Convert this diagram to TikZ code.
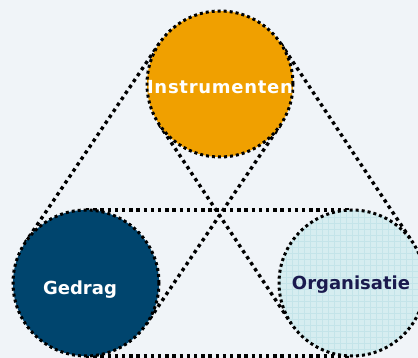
\documentclass[tikz,border=0pt]{standalone}
\usepackage{fontspec}
\setmainfont{DejaVu Sans}
\usetikzlibrary{calc}
\definecolor{bgcol}{RGB}{240,244,248}
\definecolor{orangecol}{RGB}{240,160,0}
\definecolor{bluecol}{RGB}{0,69,110}
\definecolor{cyancol}{RGB}{214,237,240}
\definecolor{gridcol}{RGB}{196,228,233}
\definecolor{navycol}{RGB}{26,26,78}
\tikzset{
  dotline/.style={line width=3.4pt, dash pattern=on 3.4pt off 3.8pt, black},
  ball/.style={circle, minimum size=146pt, inner sep=0pt, draw=black,
    line width=3pt, dash pattern=on 3pt off 3pt},
  balltext/.style={font=\bfseries\fontsize{18}{20}\selectfont, inner sep=0pt},
}
\begin{document}
\begin{tikzpicture}[x=1pt,y=-1pt]
\useasboundingbox (0,0) rectangle (418,358);
\clip (0,0) rectangle (418,358);
\fill[bgcol] (0,0) rectangle (418,358);
\coordinate (cI) at (220,84);
\coordinate (cG) at (86,283);
\coordinate (cO) at (352,283);
% tangent lines between each pair of circles
\draw[dotline] ($(cI)!73pt!90:(cG)$) -- ($(cG)!73pt!-90:(cI)$);
\draw[dotline] ($(cI)!73pt!-90:(cG)$) -- ($(cG)!73pt!90:(cI)$);
\draw[dotline] ($(cI)!73pt!90:(cO)$) -- ($(cO)!73pt!-90:(cI)$);
\draw[dotline] ($(cI)!73pt!-90:(cO)$) -- ($(cO)!73pt!90:(cI)$);
\draw[dotline] ($(cG)!73pt!90:(cO)$) -- ($(cO)!73pt!-90:(cG)$);
\draw[dotline] ($(cG)!73pt!-90:(cO)$) -- ($(cO)!73pt!90:(cG)$);
% circles
\node[ball, fill=orangecol] (I) at (cI) {};
\node[ball, fill=bluecol] (G) at (cG) {};
\node[ball, fill=cyancol,
  path picture={\draw[gridcol, line width=0.5pt, solid, step=6pt]
    (path picture bounding box.south west) grid (path picture bounding box.north east);}
  ] (O) at (cO) {};
% labels
\node[balltext, text=white] (tI) at (220,87) {\addfontfeature{LetterSpace=4}Instrumenten};
\node[balltext, text=white] (tG) at (80,290) {Gedrag};
\node[balltext, text=navycol] (tO) at (351,285) {Organisatie};
\end{tikzpicture}
\end{document}
